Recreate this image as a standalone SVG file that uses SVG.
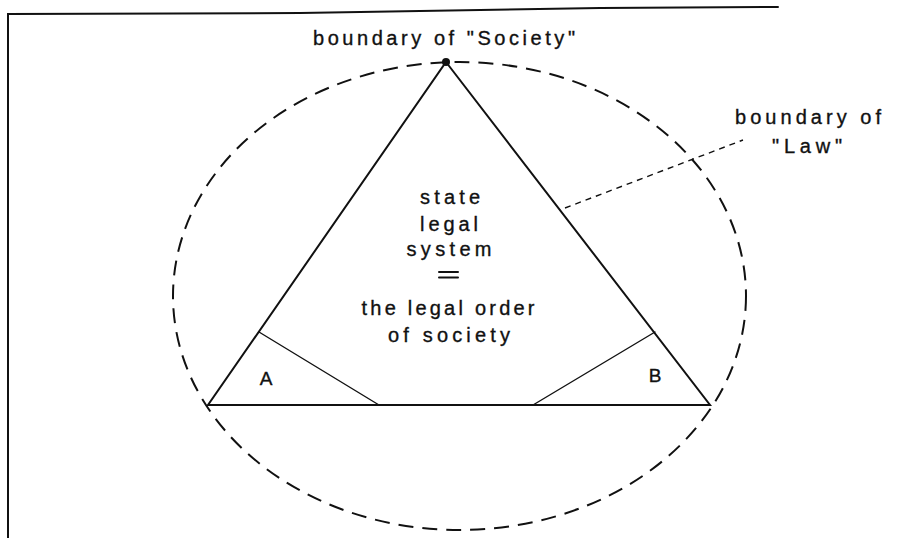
<svg xmlns="http://www.w3.org/2000/svg" width="907" height="538" viewBox="0 0 907 538">
<style>
.t{font-family:"Liberation Sans",Arial,sans-serif;fill:#111;stroke:#111;stroke-width:0.35;}
.solid{stroke:#111;fill:none;stroke-linecap:round;}
</style>
<rect width="907" height="538" fill="#fff"/>
<g id="frame">
<polyline class="solid" stroke-width="2" points="8,538 8,14 300,13 600,8 778,7"/>
</g>
<g id="law-boundary">
<ellipse cx="459.5" cy="296" rx="286.5" ry="234" fill="none" stroke="#111" stroke-width="2" stroke-dasharray="15 9"/>
</g>
<g id="society-triangle">
<polygon class="solid" stroke-width="2" stroke-linejoin="miter" points="446,62 710,405 208,405"/>
<circle cx="446" cy="62" r="4" fill="#111"/>
</g>
<g id="region-A">
<line class="solid" stroke-width="1.4" x1="259" y1="332" x2="379" y2="405"/>
<text class="t" x="266" y="384.5" font-size="19" text-anchor="middle">A</text>
</g>
<g id="region-B">
<line class="solid" stroke-width="1.4" x1="655" y1="332" x2="533" y2="405"/>
<text class="t" x="655" y="382" font-size="19" text-anchor="middle">B</text>
</g>
<g id="center-label">
<text class="t" x="450" y="204" font-size="20" text-anchor="middle" textLength="60" lengthAdjust="spacing">state</text>
<text class="t" x="449" y="231" font-size="20" text-anchor="middle" textLength="58" lengthAdjust="spacing">legal</text>
<text class="t" x="449" y="256" font-size="20" text-anchor="middle" textLength="85" lengthAdjust="spacing">system</text>
<line class="solid" stroke-width="2" x1="439" y1="272" x2="458" y2="272"/>
<line class="solid" stroke-width="2" x1="439" y1="277.5" x2="458" y2="277.5"/>
<text class="t" x="448" y="315" font-size="20" text-anchor="middle" textLength="173" lengthAdjust="spacing">the legal order</text>
<text class="t" x="449" y="342" font-size="20" text-anchor="middle" textLength="122" lengthAdjust="spacing">of society</text>
</g>
<g id="society-label">
<text class="t" x="444" y="45" font-size="20" text-anchor="middle" textLength="262" lengthAdjust="spacing">boundary of "Society"</text>
</g>
<g id="law-label">
<text class="t" x="808" y="124" font-size="20" text-anchor="middle" textLength="146" lengthAdjust="spacing">boundary of</text>
<text class="t" x="807" y="153" font-size="20" text-anchor="middle" textLength="70" lengthAdjust="spacing">"Law"</text>
</g>
<g id="connectors">
<line x1="565" y1="208" x2="743" y2="140" stroke="#111" stroke-width="1.4" stroke-dasharray="6 5"/>
</g>
</svg>
